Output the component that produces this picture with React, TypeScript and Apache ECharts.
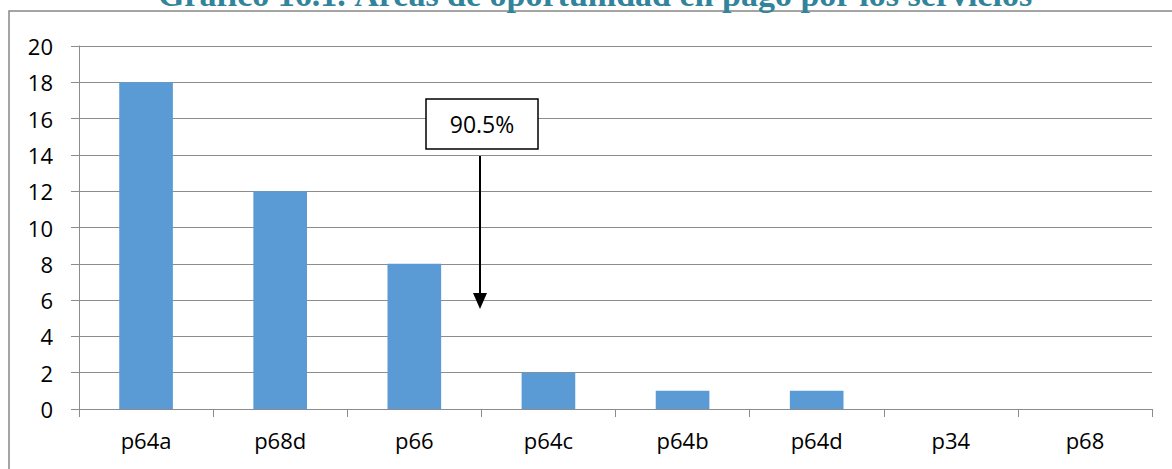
import React, { useEffect, useRef } from "react";
import * as echarts from "echarts";

const categories = ["p64a", "p68d", "p66", "p64c", "p64b", "p64d", "p34", "p68"];
const values = [18, 12, 8, 2, 1, 1, 0, 0];
const yTicks = { min: 0, max: 20, interval: 2 };
const titleText = "Gráfico 16.1. Áreas de oportunidad en pago por los servicios";
const annotationText = "90.5%";

export default function App() {
  const ref = useRef<HTMLDivElement>(null);
  useEffect(() => {
    if (!ref.current) return;
    const chart = echarts.init(ref.current, null, { renderer: "svg" });
    chart.setOption({
      animation: false,
      backgroundColor: "#ffffff",
      grid: { left: 79, right: 20, top: 46, bottom: 60, containLabel: false },
      xAxis: {
        type: "category",
        data: categories,
        axisLine: { show: true, lineStyle: { color: "#8c8c8c", width: 1 } },
        axisTick: { show: true, alignWithLabel: false, length: 8, lineStyle: { color: "#8c8c8c" } },
        axisLabel: { color: "#000", fontFamily: "Open Sans", fontSize: 22, margin: 20 },
        splitLine: { show: false },
      },
      yAxis: {
        type: "value",
        min: yTicks.min,
        max: yTicks.max,
        interval: yTicks.interval,
        axisLine: { show: true, lineStyle: { color: "#8c8c8c", width: 1 } },
        axisTick: { show: true, inside: false, length: 8, lineStyle: { color: "#8c8c8c" } },
        axisLabel: { color: "#000", fontFamily: "Open Sans", fontSize: 22, margin: 26 },
        splitLine: { show: true, lineStyle: { color: "#8c8c8c", width: 1 } },
      },
      series: [
        {
          type: "bar",
          data: values,
          barWidth: "40%",
          itemStyle: { color: "#5b9bd5" },
        },
      ],
      graphic: [
        {
          type: "rect",
          z: -1,
          silent: true,
          shape: { x: 9, y: 11, width: 1200, height: 500 },
          style: { fill: "none", stroke: "#878787", lineWidth: 1.5 },
        },
        {
          type: "text",
          x: 595,
          y: -6,
          style: {
            text: titleText,
            fontFamily: "Liberation Serif",
            fontWeight: "bold",
            fontSize: 34,
            fill: "#31849b",
            textAlign: "center",
            textVerticalAlign: "middle",
          },
        },
        {
          type: "rect",
          shape: { x: 426, y: 99, width: 112, height: 50 },
          style: { fill: "#ffffff", stroke: "#000000", lineWidth: 1.5 },
          z: 10,
        },
        {
          type: "text",
          x: 482,
          y: 124,
          z: 11,
          style: {
            text: annotationText,
            fontFamily: "Open Sans",
            fontSize: 23,
            fill: "#000",
            textAlign: "center",
            textVerticalAlign: "middle",
          },
        },
        {
          type: "line",
          z: 10,
          shape: { x1: 480, y1: 156, x2: 480, y2: 296 },
          style: { stroke: "#000", lineWidth: 2 },
        },
        {
          type: "polygon",
          z: 10,
          shape: { points: [[473, 293], [487, 293], [480, 309]] },
          style: { fill: "#000" },
        },
      ],
    });
    return () => chart.dispose();
  }, []);
  return (
    <div
      ref={ref}
      style={{ position: "absolute", left: 0, top: 0, width: 1172, height: 469 }}
    />
  );
}
